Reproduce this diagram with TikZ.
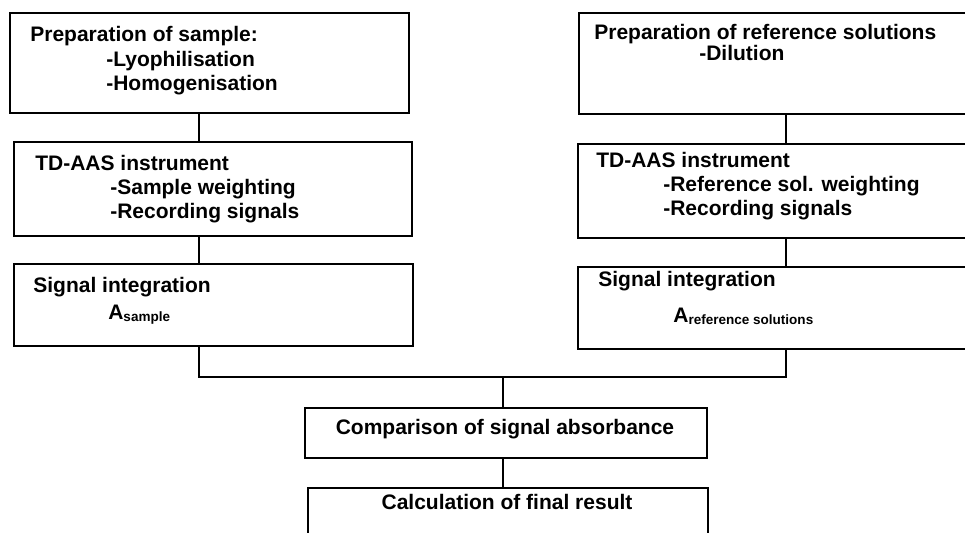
\documentclass[tikz,border=0pt]{standalone}
\usepackage{fontspec}
\setmainfont{Liberation Sans}
\begin{document}
\begin{tikzpicture}[x=0.02cm, y=-0.02cm,
    box/.style={draw, rectangle, line width=1pt, inner sep=0pt, anchor=north west},
    txt/.style={anchor=base west, inner sep=0pt, font=\fontsize{11.95}{13.4}\selectfont\bfseries},
    link/.style={line width=1.6pt}]
  \useasboundingbox (0,0) rectangle (965,533);
  \newcommand{\sub}[1]{\raisebox{-1pt}{\fontsize{7.7}{9}\selectfont #1}}

  % Left column (sample)
  \node[box, minimum width=7.98cm, minimum height=2cm] (sample) at (9,12) {};
  \node[box, minimum width=7.96cm, minimum height=1.88cm] (instrS) at (13,141) {};
  \node[box, minimum width=7.98cm, minimum height=1.64cm] (integS) at (13,263) {};

  % Right column (reference solutions)
  \node[box, minimum width=7.94cm, minimum height=2.02cm] (refprep) at (578,12) {};
  \node[box, minimum width=7.96cm, minimum height=1.88cm] (instrR) at (577,143) {};
  \node[box, minimum width=7.96cm, minimum height=1.64cm] (integR) at (577,266) {};

  % Bottom
  \node[box, minimum width=8.04cm, minimum height=1cm] (compare) at (304,407) {};
  \node[box, minimum width=8cm, minimum height=1.2cm] (result) at (307,487) {};

  % Texts
  \node[txt] (sampletxt) at (30,42) {\begin{tabular}[t]{@{}l@{}}
    Preparation of sample:\\[0.3pt]
    \hspace*{1.52cm}-Lyophilisation\\[0.3pt]
    \hspace*{1.52cm}-Homogenisation\end{tabular}};
  \node[txt] (instrStxt) at (35,171) {\begin{tabular}[t]{@{}l@{}}
    TD-AAS instrument\\
    \hspace*{1.5cm}-Sample weighting\\
    \hspace*{1.5cm}-Recording signals\end{tabular}};
  \node[txt] (integStxt) at (33,293) {\begin{tabular}[t]{@{}l@{}}
    Signal integration\\[1.8pt]
    \hspace*{1.5cm}A\sub{sample}\end{tabular}};
  \node[txt] (refpreptxt) at (594,40) {\begin{tabular}[t]{@{}l@{}}
    Preparation of reference solutions\\[-2pt]
    \hspace*{2.1cm}-Dilution\end{tabular}};
  \node[txt] (instrRtxt) at (596,168) {\begin{tabular}[t]{@{}l@{}}
    TD-AAS instrument\\
    \hspace*{1.34cm}-Reference sol. weighting\\
    \hspace*{1.34cm}-Recording signals\end{tabular}};
  \node[txt] (integRtxt) at (598,287) {\begin{tabular}[t]{@{}l@{}}
    Signal integration\\[7pt]
    \hspace*{1.5cm}A\sub{reference solutions}\end{tabular}};
  \node[txt, anchor=base] (comparetxt) at (505,435) {Comparison of signal absorbance};
  \node[txt, anchor=base] (resulttxt) at (507,510) {Calculation of final result};

  % Connections
  \coordinate (lcol) at (199,0);
  \coordinate (rcol) at (786,0);
  \coordinate (join) at (503,377);
  \draw[link] (sample.south -| lcol) -- (instrS.north -| lcol);
  \draw[link] (instrS.south -| lcol) -- (integS.north -| lcol);
  \draw[link] (refprep.south -| rcol) -- (instrR.north -| rcol);
  \draw[link] (instrR.south -| rcol) -- (integR.north -| rcol);
  \draw[link] (integS.south -| lcol) |- (join) -| (integR.south -| rcol);
  \draw[link] (join) -- (compare.north -| join);
  \draw[link] (compare.south -| join) -- (result.north -| join);
\end{tikzpicture}
\end{document}
